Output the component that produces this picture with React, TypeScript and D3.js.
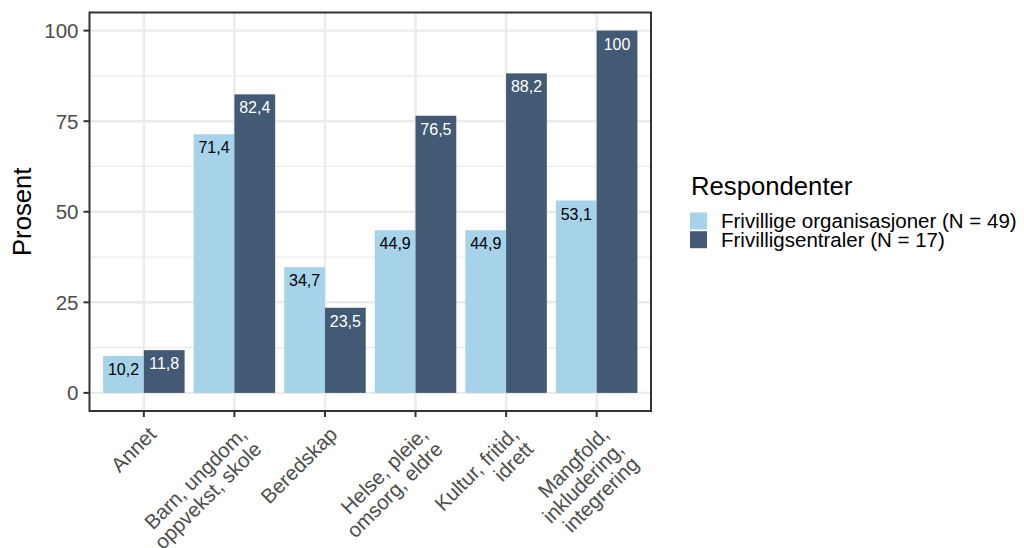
import React from "react";
import * as d3 from "d3";

const categories = [
  "Annet",
  "Barn, ungdom,\noppvekst, skole",
  "Beredskap",
  "Helse, pleie,\nomsorg, eldre",
  "Kultur, fritid,\nidrett",
  "Mangfold,\ninkludering,\nintegrering",
];
const seriesNames = ["Frivillige organisasjoner (N = 49)", "Frivilligsentraler (N = 17)"];
const orgValues = [10.2, 71.4, 34.7, 44.9, 44.9, 53.1];
const sentralValues = [11.8, 82.4, 23.5, 76.5, 88.2, 100];
const yTicks = [0, 25, 50, 75, 100];
const yMinor = [12.5, 37.5, 62.5, 87.5];
const colors = ["#A6D2EA", "#435A74"];
const labelColors = ["#000000", "#FFFFFF"];

const fmt = (v: number) => (Number.isInteger(v) ? String(v) : v.toFixed(1).replace(".", ","));

export default function App() {
  const W = 1024, H = 548;
  const left = 89.5, right = 651, top = 12.5, bottom = 411;
  const x = d3.scaleBand<string>().domain(categories).range([left, right]).paddingInner(0.1).paddingOuter(0.15);
  const xs = d3.scaleBand<number>().domain([0, 1]).range([0, x.bandwidth()]).padding(0);
  const y = d3.scaleLinear().domain([-5, 105]).range([bottom, top]);
  const series = [orgValues, sentralValues];
  const font = "'Liberation Sans', Arial, sans-serif";
  const center = (c: string) => (x(c) as number) + x.bandwidth() / 2;

  return (
    <svg width={W} height={H} style={{ position: "absolute", left: 0, top: 0, background: "#fff" }} fontFamily={font}>
      <rect x={0} y={0} width={W} height={H} fill="#fff" />
      {yMinor.map((t) => (
        <line key={"mi" + t} x1={left} x2={right} y1={y(t)} y2={y(t)} stroke="#EBEBEB" strokeWidth={1.2} />
      ))}
      {yTicks.map((t) => (
        <line key={"ma" + t} x1={left} x2={right} y1={y(t)} y2={y(t)} stroke="#EBEBEB" strokeWidth={2.4} />
      ))}
      {categories.map((c) => (
        <line key={"vg" + c} x1={center(c)} x2={center(c)} y1={top} y2={bottom} stroke="#EBEBEB" strokeWidth={2.4} />
      ))}
      {series.map((vals, si) =>
        categories.map((c, ci) => {
          const bx = (x(c) as number) + (xs(si) as number);
          return (
            <rect key={"b" + si + ci} x={bx} y={y(vals[ci])} width={xs.bandwidth()} height={y(0) - y(vals[ci])} fill={colors[si]} />
          );
        })
      )}
      {series.map((vals, si) =>
        categories.map((c, ci) => {
          const bx = (x(c) as number) + (xs(si) as number) + xs.bandwidth() / 2;
          return (
            <text key={"l" + si + ci} x={bx} y={y(vals[ci]) + 19} textAnchor="middle" fontSize={16} fill={labelColors[si]}>
              {fmt(vals[ci])}
            </text>
          );
        })
      )}
      <rect x={left} y={top} width={right - left} height={bottom - top} fill="none" stroke="#333333" strokeWidth={2} />
      {yTicks.map((t) => (
        <g key={"yt" + t}>
          <line x1={left - 6} x2={left} y1={y(t)} y2={y(t)} stroke="#333333" strokeWidth={2} />
          <text x={left - 11} y={y(t)} dy="0.36em" textAnchor="end" fontSize={20.5} fill="#4D4D4D">
            {t}
          </text>
        </g>
      ))}
      {categories.map((c) => {
        const cx = center(c);
        const lines = c.split("\n");
        return (
          <g key={"xt" + c}>
            <line x1={cx} x2={cx} y1={bottom} y2={bottom + 6} stroke="#333333" strokeWidth={2} />
            <text transform={`translate(${cx + 3},${bottom + 14}) rotate(-45)`} textAnchor="end" fontSize={20.5} fill="#4D4D4D">
              {lines.map((ln, i) => (
                <tspan key={i} x={0} y={15 + i * 21}>
                  {ln}
                </tspan>
              ))}
            </text>
          </g>
        );
      })}
      <text transform={`translate(31,${(top + bottom) / 2}) rotate(-90)`} textAnchor="middle" fontSize={25.7} fill="#000">
        Prosent
      </text>
      <text x={691} y={195} fontSize={25.7} fill="#000">
        Respondenter
      </text>
      {seriesNames.map((n, i) => (
        <g key={"lg" + i}>
          <rect x={690} y={212.5 + i * 18.7} width={17} height={17} fill={colors[i]} />
          <text x={721} y={228 + i * 19} fontSize={20.5} fill="#000">
            {n}
          </text>
        </g>
      ))}
    </svg>
  );
}
